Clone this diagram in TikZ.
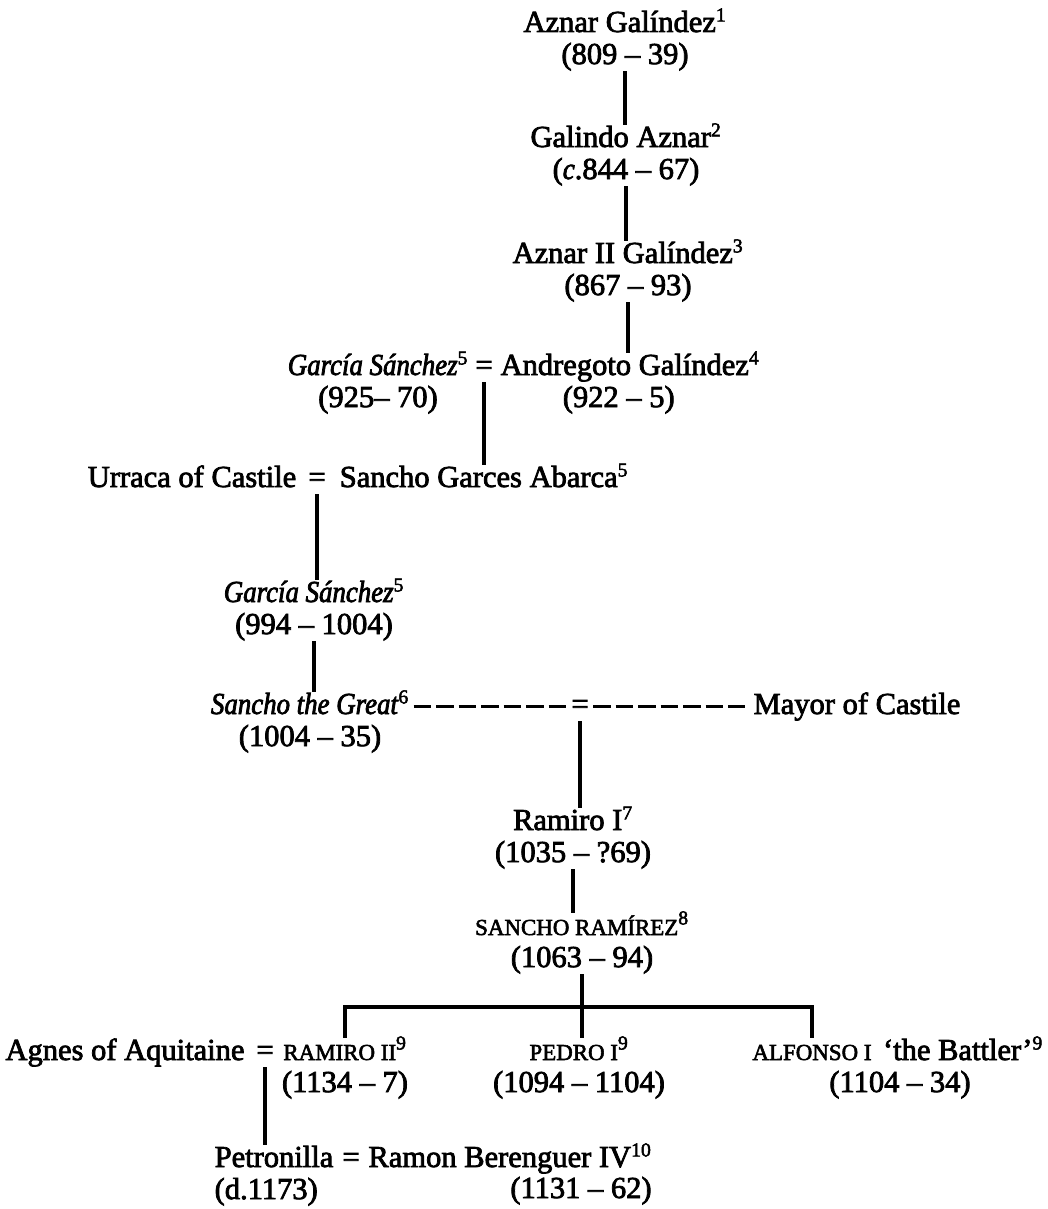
\documentclass[tikz,border=0pt]{standalone}
\usepackage{fontspec}
\setmainfont{Liberation Serif}[UprightFeatures={FakeBold=2.5}, ItalicFeatures={FakeStretch=0.88, FakeBold=2.5}]
\usetikzlibrary{positioning}
\newcommand{\ftn}[1]{\textsuperscript{\fontsize{14pt}{14pt}\selectfont #1}}
\newcommand{\capsname}[1]{{\fontsize{16.3pt}{18pt}\selectfont #1}}

\begin{document}
\begin{tikzpicture}[x=0.025cm, y=-0.025cm,
  every node/.style={inner sep=0pt, text height=15.6pt, text depth=4.8pt,
    font=\fontsize{21.7pt}{26pt}\selectfont},
  dates/.style={below=2pt of #1},
  kin/.style={line width=2.6pt},
  kindash/.style={line width=2.4pt, dash pattern=on 12.5pt off 3.5pt}]
  \useasboundingbox (0,0) rectangle (1047,1209);

  % Aznar line
  \node[anchor=base] (aznar) at (625,32) {Aznar Galíndez\ftn{1}};
  \node[dates=aznar] (aznar-d) {(809 – 39)};
  \node[anchor=base] (galindo) at (626,147) {Galindo Aznar\ftn{2}};
  \node[dates=galindo] (galindo-d) {(\textit{c}.844 – 67)};
  \node[anchor=base] (aznarii) at (628,263) {Aznar II Galíndez\ftn{3}};
  \node[dates=aznarii] (aznarii-d) {(867 – 93)};

  % first marriage
  \node[anchor=base] (garcia1) at (378,375) {\textit{García Sánchez}\ftn{5}};
  \node[anchor=base] (m1) at (484,375) {=};
  \node[anchor=base] (andregoto) at (630,375) {Andregoto Galíndez\ftn{4}};
  \node[dates=garcia1] (garcia1-d) {(925– 70)};
  \node[dates=andregoto, xshift=-8pt] (andregoto-d) {(922 – 5)};

  \node[anchor=base] (urraca) at (192,487) {Urraca of Castile};
  \node[anchor=base] (m2) at (317,487) {=};
  \node[anchor=base] (sga) at (484,487) {Sancho Garces Abarca\ftn{5}};

  \node[anchor=base] (garcia2) at (314,602) {\textit{García Sánchez}\ftn{5}};
  \node[dates=garcia2] (garcia2-d) {(994 – 1004)};

  % Sancho the Great
  \node[anchor=base] (sanchog) at (310,714) {\textit{Sancho the Great}\ftn{6}};
  \node[dates=sanchog] (sanchog-d) {(1004 – 35)};
  \node[anchor=base] (m3) at (580,714) {=};
  \node[anchor=base] (mayor) at (857,714) {Mayor of Castile};

  \node[anchor=base] (ramiro1) at (573,830) {Ramiro I\ftn{7}};
  \node[dates=ramiro1] (ramiro1-d) {(1035 – ?69)};
  \node[anchor=base] (sanchor) at (582,935) {\capsname{SANCHO RAMÍREZ}\ftn{8}};
  \node[dates=sanchor] (sanchor-d) {(1063 – 94)};
  \coordinate (fork) at (582,1007);

  % sons
  \node[anchor=base] (agnes) at (125,1060) {Agnes of Aquitaine};
  \node[anchor=base] (m4) at (265,1060) {=};
  \node[anchor=base] (ramiro2) at (345,1060) {\capsname{RAMIRO II}\ftn{9}};
  \node[dates=ramiro2] (ramiro2-d) {(1134 – 7)};
  \node[anchor=base] (pedro) at (579,1060) {\capsname{PEDRO I}\ftn{9}};
  \node[dates=pedro] (pedro-d) {(1094 – 1104)};
  \node[anchor=base] (alfonso) at (812,1060) {\capsname{ALFONSO I}};
  \node[anchor=base] (battler) at (963,1060) {‘the Battler’\ftn{9}};
  \node[anchor=base] (alfonso-d) at (900,1092) {(1104 – 34)};

  \node[anchor=base] (petronilla) at (274,1167) {Petronilla};
  \node[below=2pt of petronilla.south west, anchor=north west] (petronilla-d) {(d.1173)};
  \node[anchor=base] (m5) at (351,1167) {=};
  \node[anchor=base] (ramon) at (510,1167) {Ramon Berenguer IV\ftn{10}};
  \node[anchor=base] (ramon-d) at (581,1198) {(1131 – 62)};

  % descent
  \draw[kin] (aznar-d.south) -- (aznar-d.south |- galindo.north);
  \draw[kin] (galindo-d.south) -- (galindo-d.south |- aznarii.north);
  \draw[kin] (aznarii-d.south) -- (aznarii-d.south |- andregoto.north);
  \draw[kin] (m1.south) -- (m1.south |- sga.north);
  \draw[kin] (m2.south) -- (m2.south |- garcia2.north);
  \draw[kin] (garcia2-d.south) -- (garcia2-d.south |- sanchog.north);
  \draw[kindash, shorten <=3pt, shorten >=3pt] (sanchog.east) -- (m3.west);
  \draw[kindash, shorten <=3pt, shorten >=6pt] (m3.east) -- (mayor.west);
  \draw[kin] (m3.south) -- (m3.south |- ramiro1.north);
  \draw[kin] (ramiro1-d.south) -- (ramiro1-d.south |- sanchor.north);
  \draw[kin] (sanchor-d.south) -- (sanchor-d.south |- pedro.north);
  \draw[kin] (ramiro2.north) -- (ramiro2.north |- fork) -- (alfonso.north |- fork) -- (alfonso.north);
  \draw[kin] (m4.south) -- (m4.south |- petronilla.north);
\end{tikzpicture}
\end{document}
